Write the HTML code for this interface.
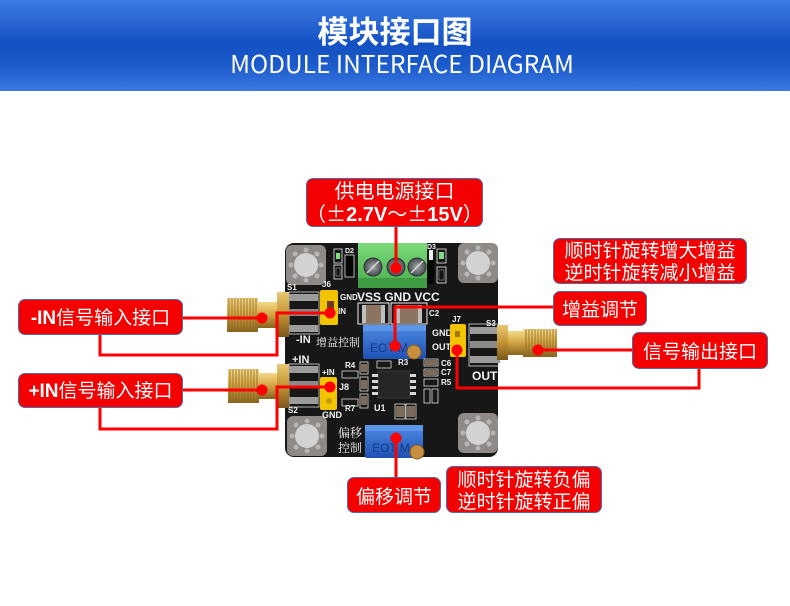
<!DOCTYPE html>
<html><head><meta charset="utf-8">
<style>
*{margin:0;padding:0;box-sizing:border-box}
body{width:790px;height:606px;background:#fff;position:relative;overflow:hidden;font-family:"Liberation Sans","Noto Sans CJK SC",sans-serif}
.hdr{position:absolute;left:0;top:0;width:790px;height:91px;background:linear-gradient(#3b7be2 0%,#2966d4 25%,#1350c2 48%,#1c5bcb 72%,#3a7ae2 100%)}
.t1{position:absolute;left:0;width:790px;top:14px;text-align:center;color:#fff;font:bold 31px/31px "Noto Sans CJK SC",sans-serif}
.t2{position:absolute;left:7px;width:790px;top:52px;text-align:center;color:#fff;font:24.5px/24px "Noto Sans CJK SC",sans-serif}
.lb{position:absolute;background:#f40000;border:1px solid #4f6aa5;border-radius:7px;color:#fff;font:19px/23px "Noto Sans CJK SC",sans-serif;display:flex;align-items:center;justify-content:center;text-align:center;white-space:nowrap}
.lb>span{display:inline-block}
.lb b{font-family:"Liberation Sans",sans-serif;font-weight:bold}
svg{position:absolute;left:0;top:0}
</style></head><body>
<div class="hdr"></div>
<div class="t1">模块接口图</div>
<div class="t2">MODULE INTERFACE DIAGRAM</div>

<svg width="790" height="606" viewBox="0 0 790 606">
<defs>
<linearGradient id="gold" x1="0" y1="0" x2="0" y2="1"><stop offset="0" stop-color="#f3d98a"/><stop offset=".45" stop-color="#d6a846"/><stop offset="1" stop-color="#8a6420"/></linearGradient>
<linearGradient id="gold2" x1="0" y1="0" x2="0" y2="1"><stop offset="0" stop-color="#e8c870"/><stop offset=".5" stop-color="#c49232"/><stop offset="1" stop-color="#7a561a"/></linearGradient>
<linearGradient id="blue" x1="0" y1="0" x2="0" y2="1"><stop offset="0" stop-color="#4f8ce6"/><stop offset="1" stop-color="#1f50b4"/></linearGradient>
<linearGradient id="green" x1="0" y1="0" x2="0" y2="1"><stop offset="0" stop-color="#7ada7a"/><stop offset="1" stop-color="#4aac4c"/></linearGradient>
<radialGradient id="screw"><stop offset="0" stop-color="#a4a9ad"/><stop offset="1" stop-color="#474b4f"/></radialGradient>
<g id="pad">
<rect x="0" y="0" width="40" height="40" rx="6" fill="#8d8a87"/>
<circle cx="20" cy="20" r="12" fill="#d2d2d2"/>
<circle cx="20" cy="5" r="2.5" fill="#b8b5b2"/><circle cx="20" cy="35" r="2.5" fill="#b8b5b2"/>
<circle cx="5" cy="20" r="2.5" fill="#b8b5b2"/><circle cx="35" cy="20" r="2.5" fill="#b8b5b2"/>
<circle cx="9" cy="9" r="2.5" fill="#b8b5b2"/><circle cx="31" cy="9" r="2.5" fill="#b8b5b2"/>
<circle cx="9" cy="31" r="2.5" fill="#b8b5b2"/><circle cx="31" cy="31" r="2.5" fill="#b8b5b2"/>
</g>
</defs>

<!-- board -->
<rect x="285" y="243" width="213" height="214" rx="9" fill="#171717"/>
<use href="#pad" x="286" y="245"/>
<use href="#pad" x="458" y="243"/>
<use href="#pad" x="287" y="416"/>
<use href="#pad" x="458" y="413"/>

<!-- terminal block -->
<rect x="358" y="243" width="69" height="45" fill="url(#green)"/>
<rect x="358" y="278" width="69" height="10" fill="#3f9c42"/>
<circle cx="373" cy="267" r="9" fill="url(#screw)" stroke="#2f3336"/>
<circle cx="396" cy="267" r="9" fill="url(#screw)" stroke="#2f3336"/>
<circle cx="417" cy="267" r="9" fill="url(#screw)" stroke="#2f3336"/>
<path d="M367 273L379 261M411 273L423 261" stroke="#d8d8d8" stroke-width="1.5"/>

<!-- LEDs / resistors top -->
<rect x="345" y="255" width="9" height="22" fill="#050505" stroke="#ddd" stroke-width=".8"/>
<rect x="334" y="249" width="8" height="14" fill="none" stroke="#eee" stroke-width=".8"/>
<rect x="336" y="253" width="4" height="6" fill="#7fe08a"/>
<rect x="334" y="265" width="8" height="14" fill="none" stroke="#eee" stroke-width=".8"/>
<rect x="336" y="268" width="4" height="8" fill="#111" stroke="#999" stroke-width=".6"/>
<rect x="427" y="258" width="7" height="26" fill="#050505"/>
<rect x="429" y="250" width="4" height="10" fill="#eee"/>
<rect x="437" y="249" width="9" height="14" fill="none" stroke="#eee" stroke-width=".8"/>
<rect x="439" y="252" width="5" height="7" fill="#7fe08a"/>
<rect x="437" y="267" width="9" height="16" fill="none" stroke="#eee" stroke-width=".8"/>
<rect x="439" y="270" width="5" height="10" fill="#111" stroke="#999" stroke-width=".6"/>

<!-- silkscreen text -->
<g fill="#f2f2f2" font-family="Liberation Sans, sans-serif" font-weight="bold">
<text x="340" y="300" font-size="8">GND</text>
<text x="357" y="301" font-size="12">VSS GND VCC</text>
<text x="338" y="314" font-size="8">IN</text>
<text x="287" y="290" font-size="8">S1</text>
<text x="322" y="287" font-size="8">J6</text>
<text x="296" y="343" font-size="11">-IN</text>
<text x="292" y="363" font-size="11">+IN</text>
<text x="322" y="375" font-size="8">+IN</text>
<text x="339" y="390" font-size="9">J8</text>
<text x="322" y="418" font-size="9">GND</text>
<text x="288" y="413" font-size="8">S2</text>
<text x="345" y="368" font-size="8">R4</text>
<text x="345" y="411" font-size="8">R7</text>
<text x="374" y="411" font-size="9">U1</text>
<text x="398" y="365" font-size="8">R3</text>
<text x="429" y="316" font-size="8">C2</text>
<text x="432" y="336" font-size="9">GND</text>
<text x="432" y="350" font-size="9">OUT</text>
<text x="452" y="322" font-size="8">J7</text>
<text x="486" y="326" font-size="8">S3</text>
<text x="472" y="380" font-size="12">OUT</text>
<text x="441" y="366" font-size="8">C6</text>
<text x="441" y="375" font-size="8">C7</text>
<text x="441" y="385" font-size="8">R5</text>
<text x="345" y="253" font-size="7">D2</text>
<text x="427" y="249" font-size="7">D3</text>
</g>
<g fill="#eee" font-family="Noto Serif CJK SC, Noto Sans CJK SC, serif" font-size="11">
<text x="316" y="346">增益控制</text>
<text x="338" y="437" font-size="12">偏移</text>
<text x="338" y="452" font-size="12">控制</text>
</g>

<!-- capacitors C1 C2 -->
<rect x="358" y="303" width="31" height="21" fill="none" stroke="#eee" stroke-width="1"/>
<rect x="362" y="305" width="23" height="18" fill="#8b7560"/>
<rect x="362" y="305" width="4" height="18" fill="#bdbdbd"/><rect x="381" y="305" width="4" height="18" fill="#bdbdbd"/>
<rect x="391" y="303" width="36" height="21" fill="none" stroke="#eee" stroke-width="1"/>
<rect x="396" y="305" width="26" height="18" fill="#8b7560"/>
<rect x="396" y="305" width="4" height="18" fill="#bdbdbd"/><rect x="418" y="305" width="4" height="18" fill="#bdbdbd"/>

<!-- pot 1 -->
<rect x="363" y="325" width="63" height="34" rx="2" fill="url(#blue)"/>
<rect x="363" y="325" width="63" height="6" fill="#5b96ea"/>
<text x="370" y="352" font-family="Liberation Sans, sans-serif" font-size="12" fill="#153a85">EOT M</text>
<circle cx="414" cy="352" r="7" fill="#c68f3f" stroke="#8a5a20"/>

<!-- IC and small parts -->
<rect x="378" y="371" width="32" height="27" fill="#262626" stroke="#3a3a3a"/>
<g fill="#d8d8d8">
<rect x="372" y="374" width="6" height="3"/><rect x="372" y="380" width="6" height="3"/><rect x="372" y="386" width="6" height="3"/><rect x="372" y="392" width="6" height="3"/>
<rect x="410" y="374" width="6" height="3"/><rect x="410" y="380" width="6" height="3"/><rect x="410" y="386" width="6" height="3"/><rect x="410" y="392" width="6" height="3"/>
</g>
<g fill="none" stroke="#ddd" stroke-width=".8">
<rect x="342" y="371" width="16" height="7"/><rect x="342" y="399" width="16" height="7"/>
<rect x="360" y="362" width="8" height="12"/><rect x="360" y="377" width="8" height="14"/><rect x="360" y="394" width="8" height="14"/>
<rect x="377" y="361" width="14" height="7"/>
<rect x="424" y="359" width="14" height="7"/><rect x="424" y="369" width="14" height="7"/><rect x="424" y="379" width="14" height="7"/>
<rect x="424" y="389" width="6" height="14"/><rect x="432" y="389" width="6" height="14"/>
<rect x="395" y="404" width="10" height="15"/><rect x="406" y="404" width="10" height="15"/>
</g>
<g fill="#7e6a58">
<rect x="361" y="380" width="6" height="9"/><rect x="361" y="396" width="6" height="9"/><rect x="361" y="364" width="6" height="8"/>
<rect x="396" y="406" width="8" height="11"/><rect x="407" y="406" width="8" height="11"/>
<rect x="425" y="360" width="12" height="5"/><rect x="425" y="370" width="12" height="5"/>
</g>

<!-- pot 2 -->
<rect x="365" y="425" width="58" height="33" rx="2" fill="url(#blue)"/>
<rect x="365" y="425" width="58" height="6" fill="#5b96ea"/>
<text x="372" y="452" font-family="Liberation Sans, sans-serif" font-size="12" fill="#153a85">EOT M</text>
<circle cx="417" cy="452" r="7" fill="#c68f3f" stroke="#8a5a20"/>

<!-- jumpers -->
<rect x="320" y="290" width="18" height="35" rx="2" fill="#f2c400"/>
<rect x="327" y="301" width="7" height="9" fill="#6b3a1a"/>
<rect x="450" y="324" width="16" height="33" rx="2" fill="#f2c400"/>
<rect x="455" y="331" width="5" height="6" fill="#a07a00"/>
<rect x="320" y="377" width="17" height="33" rx="2" fill="#f2c400"/>
<circle cx="329" cy="401" r="3" fill="#c09a00"/>

<!-- S1 -->
<g>
<rect x="289" y="292" width="30" height="42" fill="none" stroke="#ddd" stroke-width=".8"/>
<rect x="288" y="294" width="30" height="7" fill="#9c9c9c"/>
<rect x="288" y="309" width="30" height="7" fill="#8a8a8a"/>
<rect x="288" y="325" width="30" height="7" fill="#9c9c9c"/>
<rect x="227" y="298" width="31" height="34" fill="url(#gold)"/>
<path d="M229 298v34M232 298v34M235 298v34M238 298v34M241 298v34M244 298v34M247 298v34M250 298v34M253 298v34M256 298v34" stroke="#8a6420" stroke-width="1.1" opacity=".7"/>
<rect x="257" y="302" width="21" height="26" fill="url(#gold)"/>
<rect x="277" y="292" width="12" height="45" fill="url(#gold2)"/>
</g>
<!-- S2 -->
<g>
<rect x="289" y="364" width="30" height="43" fill="none" stroke="#ddd" stroke-width=".8"/>
<rect x="288" y="366" width="30" height="7" fill="#9c9c9c"/>
<rect x="288" y="381" width="30" height="7" fill="#8a8a8a"/>
<rect x="288" y="397" width="30" height="7" fill="#9c9c9c"/>
<rect x="228" y="369" width="31" height="34" fill="url(#gold)"/>
<path d="M230 369v34M233 369v34M236 369v34M239 369v34M242 369v34M245 369v34M248 369v34M251 369v34M254 369v34M257 369v34" stroke="#8a6420" stroke-width="1.1" opacity=".7"/>
<rect x="258" y="373" width="20" height="26" fill="url(#gold)"/>
<rect x="277" y="364" width="12" height="44" fill="url(#gold2)"/>
</g>
<!-- S3 -->
<g>
<rect x="469" y="324" width="30" height="42" fill="none" stroke="#ddd" stroke-width=".8"/>
<rect x="470" y="327" width="30" height="7" fill="#9c9c9c"/>
<rect x="470" y="341" width="30" height="7" fill="#8a8a8a"/>
<rect x="470" y="356" width="30" height="7" fill="#9c9c9c"/>
<rect x="523" y="329" width="34" height="28" fill="url(#gold)"/>
<path d="M526 329v28M529 329v28M532 329v28M535 329v28M538 329v28M541 329v28M544 329v28M547 329v28M550 329v28M553 329v28M556 329v28" stroke="#8a6420" stroke-width="1.1" opacity=".7"/>
<rect x="507" y="331" width="17" height="24" fill="url(#gold)"/>
<rect x="497" y="325" width="11" height="35" fill="url(#gold2)"/>
</g>

<!-- red connectors -->
<g stroke="#f00" stroke-width="3" fill="none" stroke-linejoin="miter">
<path d="M396 227V268"/>
<path d="M183 318H262"/>
<path d="M100 335V355H277V313H330"/>
<path d="M183 390H262"/>
<path d="M100 408V429H277V387H330"/>
<path d="M553 307H395V346"/>
<path d="M632 350H538"/>
<path d="M699 369V388H457V350"/>
<path d="M396 477V438"/>
</g>
<g fill="#f00">
<circle cx="396" cy="268" r="5.5"/>
<circle cx="262" cy="318" r="5.5"/>
<circle cx="330" cy="313" r="5.5"/>
<circle cx="262" cy="390" r="5.5"/>
<circle cx="330" cy="387" r="5.5"/>
<circle cx="395" cy="346" r="5.5"/>
<circle cx="538" cy="350" r="5.5"/>
<circle cx="457" cy="350" r="5.5"/>
<circle cx="396" cy="438" r="5.5"/>
</g>
</svg>

<div class="lb" style="left:306px;top:178px;width:177px;height:49px;font-size:20px;line-height:23px"><span>供电电源接口<br>（±<b>2.7V</b>～±<b>15V</b>）</span></div>
<div class="lb" style="left:18px;top:299px;width:165px;height:36px"><span><b>-IN</b>信号输入接口</span></div>
<div class="lb" style="left:18px;top:373px;width:165px;height:35px"><span><b>+IN</b>信号输入接口</span></div>
<div class="lb" style="left:553px;top:238px;width:194px;height:46px;line-height:22px"><span>顺时针旋转增大增益<br>逆时针旋转减小增益</span></div>
<div class="lb" style="left:553px;top:291px;width:94px;height:35px"><span>增益调节</span></div>
<div class="lb" style="left:632px;top:332px;width:136px;height:37px"><span>信号输出接口</span></div>
<div class="lb" style="left:347px;top:477px;width:94px;height:36px"><span>偏移调节</span></div>
<div class="lb" style="left:446px;top:466px;width:156px;height:47px;line-height:22px"><span>顺时针旋转负偏<br>逆时针旋转正偏</span></div>
</body></html>
